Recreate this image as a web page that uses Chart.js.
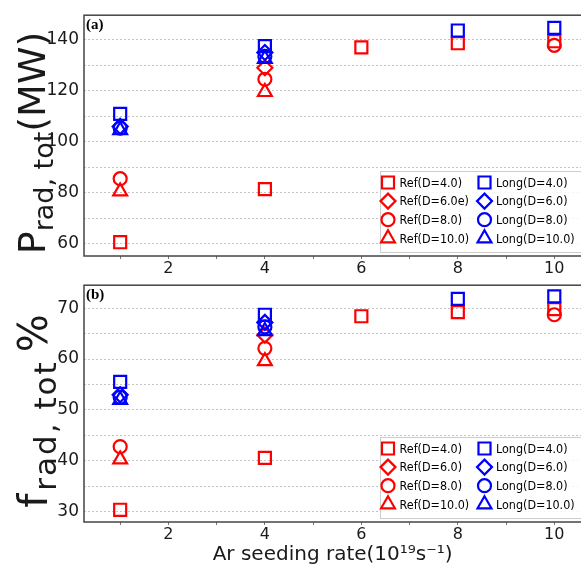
<!DOCTYPE html>
<html>
<head>
<meta charset="utf-8">
<script src="https://cdn.jsdelivr.net/npm/chart.js@4.4.0/dist/chart.umd.min.js"></script>
<style>
  html, body { margin: 0; padding: 0; background: #fff; }
  #wrap { position: relative; width: 581px; height: 569px; overflow: hidden; }
  canvas { position: absolute; left: 0; }
</style>
</head>
<body>
<div id="wrap">
  <canvas id="chartA" width="592" height="282" style="top:0px;width:592px;height:282px"></canvas>
  <canvas id="chartB" width="592" height="299" style="top:270px;width:592px;height:299px"></canvas>
</div>
<script>
// x positions (Ar seeding rate, 1e19 /s) for each series
const refD4X = [1, 4, 6, 8, 10];
const refD6X = [4];
const refD8X = [1, 4, 10];
const refD10X = [1, 4];
const longD4X = [1, 4, 8, 10];
const longD6X = [1, 4];
const longD8X = [1, 4];
const longD10X = [1, 4];

// (a) P_rad,tot in MW
const refD4P = [60.6, 81.4, 137.0, 138.6, 139.4];
const refD6P = [129.0];
const refD8P = [85.5, 124.5, 137.8];
const refD10P = [80.5, 119.5];
const longD4P = [110.9, 137.5, 143.6, 144.6];
const longD6P = [106.0, 135.0];
const longD8P = [105.3, 133.5];
const longD10P = [104.5, 132.5];

// (b) f_rad,tot in %
const refD4F = [30.4, 40.6, 68.4, 69.2, 69.8];
const refD6F = [64.7];
const refD8F = [42.8, 62.1, 68.7];
const refD10F = [40.3, 59.6];
const longD4F = [55.5, 68.7, 71.8, 72.3];
const longD6F = [53.0, 67.2];
const longD8F = [52.5, 66.3];
const longD10F = [52.0, 65.5];

const legendA = ['Ref(D=4.0)', 'Ref(D=6.0e)', 'Ref(D=8.0)', 'Ref(D=10.0)',
                 'Long(D=4.0)', 'Long(D=6.0)', 'Long(D=8.0)', 'Long(D=10.0)'];
const legendB = ['Ref(D=4.0)', 'Ref(D=6.0)', 'Ref(D=8.0)', 'Ref(D=10.0)',
                 'Long(D=4.0)', 'Long(D=6.0)', 'Long(D=8.0)', 'Long(D=10.0)'];

const RED = '#ff0000';
const BLUE = '#0000ff';

// marker styles: square, diamond, circle, triangle
const styles = [
  { pointStyle: 'rect', r: 8.5 },
  { pointStyle: 'rectRot', r: 7.5 },
  { pointStyle: 'circle', r: 6.5 },
  { pointStyle: 'triangle', r: 8 },
];

function series(label, xs, ys, color, st, ord) {
  return {
    label: label,
    data: xs.map((x, i) => ({ x: x, y: ys[i] })),
    pointStyle: st.pointStyle,
    pointRadius: st.r,
    pointHoverRadius: st.r,
    pointBorderColor: color,
    pointBackgroundColor: 'rgba(0,0,0,0)',
    pointBorderWidth: 2.2,
    showLine: false,
    order: ord
  };
}

function buildSets(labels, ref, lng) {
  const xsRef = [refD4X, refD6X, refD8X, refD10X];
  const xsLong = [longD4X, longD6X, longD8X, longD10X];
  let out = [];
  for (let i = 0; i < 4; i++) out.push(series(labels[i], xsRef[i], ref[i], RED, styles[i], 1));
  for (let i = 0; i < 4; i++) out.push(series(labels[i + 4], xsLong[i], lng[i], BLUE, styles[i], 0));
  return out;
}

// box around the plot, panel letter, y title with subscript, legend box
const panelDecor = {
  id: 'panelDecor',
  beforeDatasetsDraw(chart, args, opts) {
    const a = chart.chartArea;
    const ctx = chart.ctx;
    ctx.save();
    ctx.strokeStyle = '#444';
    ctx.lineWidth = 1.5;
    ctx.strokeRect(a.left, a.top, a.right - a.left + 5, a.bottom - a.top);
    ctx.restore();
  },
  afterDraw(chart, args, opts) {
    const a = chart.chartArea;
    const ctx = chart.ctx;
    ctx.save();
    // panel letter
    ctx.fillStyle = '#000';
    ctx.font = 'bold 15px "Liberation Serif"';
    ctx.textBaseline = 'alphabetic';
    ctx.textAlign = 'left';
    ctx.fillText(opts.letter, a.left + 2, a.top + 14);

    // y title, rotated, with subscript
    const parts = opts.ytitle;
    let total = 0;
    parts.forEach(p => {
      ctx.font = p.size + 'px "DejaVu Sans"';
      ctx.letterSpacing = (p.ls || 0) + 'px';
      p.w = ctx.measureText(p.t).width + (p.gap || 0);
      total += p.w;
    });
    ctx.translate(opts.tx, opts.ty);
    ctx.rotate(-Math.PI / 2);
    let x = -total / 2;
    ctx.fillStyle = '#1a1a1a';
    parts.forEach(p => {
      ctx.font = p.size + 'px "DejaVu Sans"';
      ctx.letterSpacing = (p.ls || 0) + 'px';
      ctx.fillText(p.t, x, p.dy);
      x += p.w;
    });
    ctx.letterSpacing = '0px';
    ctx.restore();

    // legend
    ctx.save();
    const bx = a.left + 296, bh = 81;
    const by = a.bottom - 4 - bh;
    ctx.fillStyle = 'rgba(255,255,255,0.85)';
    ctx.strokeStyle = '#cccccc';
    ctx.lineWidth = 1;
    ctx.fillRect(bx, by, 620 - bx, bh);
    ctx.strokeRect(bx + 0.5, by + 0.5, 620 - bx, bh);
    ctx.textBaseline = 'middle';
    ctx.textAlign = 'left';
    chart.data.datasets.forEach((ds, i) => {
      const col = Math.floor(i / 4), row = i % 4;
      const mx = bx + 8 + col * 96.5;
      const my = by + 11.5 + row * 18.6;
      ctx.strokeStyle = ds.pointBorderColor;
      ctx.fillStyle = 'rgba(0,0,0,0)';
      ctx.lineWidth = 2.2;
      Chart.helpers.drawPoint(ctx, { pointStyle: ds.pointStyle, radius: ds.pointRadius, borderWidth: 2.2, rotation: 0 }, mx, my);
      // legend text is a little condensed in the original
      ctx.save();
      ctx.translate(mx + 11.5, my + 1);
      ctx.scale(0.86, 1);
      ctx.font = '13px "DejaVu Sans"';
      ctx.fillStyle = '#000';
      ctx.fillText(opts.labels[i], 0, 0);
      ctx.restore();
    });
    ctx.restore();
  }
};

function xScale(showTitle) {
  return {
    type: 'linear',
    min: 0.25,
    max: 10.56,
    afterFit(s) { s.height = showTitle ? 47 : 26; },
    border: { display: false },
    grid: { color: 'rgba(0,0,0,0)', tickColor: '#777', tickLength: 3, drawOnChartArea: false },
    ticks: {
      stepSize: 1,
      includeBounds: false,
      autoSkip: false,
      maxRotation: 0,
      padding: 0,
      color: '#1a1a1a',
      font: { family: 'DejaVu Sans', size: 16 },
      callback: v => (v % 2 === 0 ? String(v) : '')
    },
    title: {
      display: showTitle,
      text: 'Ar seeding rate(10¹⁹s⁻¹)',
      color: '#1a1a1a',
      font: { family: 'DejaVu Sans', size: 20 },
      padding: { top: 0, bottom: 2 }
    }
  };
}

function yScale(min, max, step, labelEvery) {
  return {
    type: 'linear',
    min: min,
    max: max,
    afterFit(s) { s.width = 84; },
    border: { display: false, dash: [2, 2] },
    grid: { color: '#c4c4c4', lineWidth: 1, drawTicks: false },
    ticks: {
      stepSize: step,
      includeBounds: false,
      padding: 5,
      color: '#1a1a1a',
      font: { family: 'DejaVu Sans', size: 17 },
      callback: v => (v % labelEvery === 0 ? String(v) : '')
    }
  };
}

new Chart(document.getElementById('chartA'), {
  type: 'scatter',
  data: {
    datasets: buildSets(legendA,
      [refD4P, refD6P, refD8P, refD10P],
      [longD4P, longD6P, longD8P, longD10P])
  },
  plugins: [panelDecor],
  options: {
    responsive: false,
    animation: false,
    layout: { padding: { top: 10, left: 0, right: 0, bottom: 0 } },
    scales: { x: xScale(false), y: yScale(55.2, 149.6, 10, 20) },
    plugins: {
      legend: { display: false },
      tooltip: { enabled: false },
      panelDecor: {
        letter: '(a)',
        labels: legendA,
        tx: 45, ty: 143,
        ytitle: [
          { t: 'P', size: 38, dy: 0 },
          { t: 'rad, tot', size: 27, dy: 8 },
          { t: '(MW)', size: 38, dy: 0 }
        ]
      }
    }
  }
});

new Chart(document.getElementById('chartB'), {
  type: 'scatter',
  data: {
    datasets: buildSets(legendB,
      [refD4F, refD6F, refD8F, refD10F],
      [longD4F, longD6F, longD8F, longD10F])
  },
  plugins: [panelDecor],
  options: {
    responsive: false,
    animation: false,
    layout: { padding: { top: 8, left: 0, right: 0, bottom: 0 } },
    scales: { x: xScale(true), y: yScale(28.0, 74.5, 5, 10) },
    plugins: {
      legend: { display: false },
      tooltip: { enabled: false },
      panelDecor: {
        letter: '(b)',
        labels: legendB,
        tx: 47, ty: 141,
        ytitle: [
          { t: 'f', size: 40, dy: 0, gap: 3 },
          { t: 'rad, tot', size: 31, dy: 9, ls: 2, gap: 8 },
          { t: '%', size: 40, dy: 0 }
        ]
      }
    }
  }
});
</script>
</body>
</html>
